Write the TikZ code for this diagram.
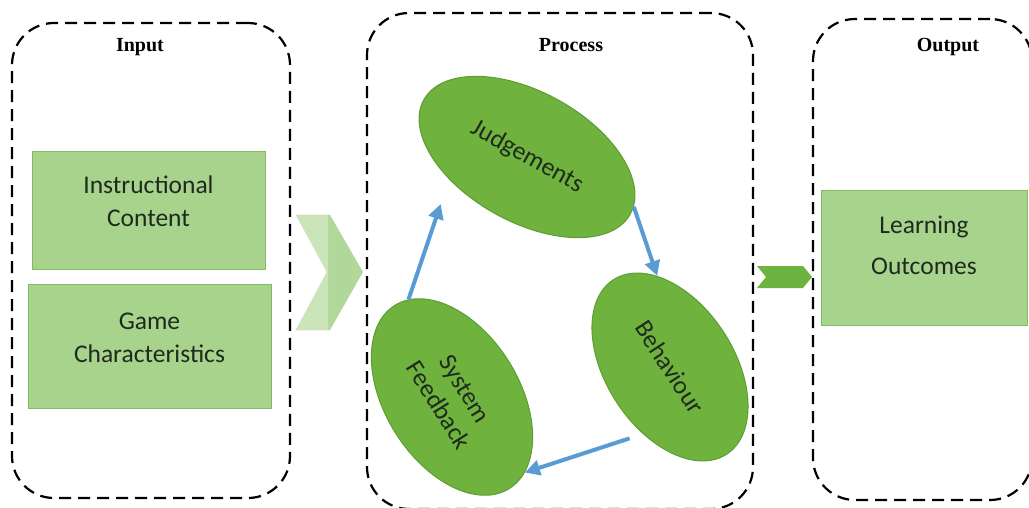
\documentclass[tikz,border=0pt]{standalone}
\usepackage{fontspec}
\setmainfont{Liberation Serif}
\newfontfamily\calfont{Carlito}
\usetikzlibrary{shapes.geometric,arrows.meta}
\definecolor{boxfill}{HTML}{A8D38C}
\definecolor{boxline}{HTML}{82BC5E}
\definecolor{ovalfill}{HTML}{6FB23E}
\definecolor{ovalline}{HTML}{5E9C34}
\definecolor{flowblue}{HTML}{5B9BD5}
\definecolor{chevlight}{HTML}{CBE4BA}
\definecolor{chevmid}{HTML}{B2D79A}
\definecolor{chevdark}{HTML}{6DB33F}
\definecolor{txt}{HTML}{1F2A1F}
\newcommand{\twolines}[3]{\raisebox{#1}[0pt][0pt]{\begin{tabular}{@{}c@{}}#2\\#3\end{tabular}}}
\begin{document}
\begin{tikzpicture}[x=1pt,y=-1pt,
  group/.style={draw=black, line width=2.2pt, dash pattern=on 12pt off 7pt, rounded corners=42pt, inner sep=0pt},
  grouptitle/.style={font=\bfseries\fontsize{20}{23}\selectfont, text=black, anchor=base, inner sep=0pt},
  itembox/.style={draw=boxline, fill=boxfill, line width=1pt, inner sep=0pt, text=txt,
    font=\calfont\fontsize{25.5}{33}\selectfont},
  oval/.style={ellipse, draw=ovalline, fill=ovalfill, line width=1pt, inner sep=0pt, align=center, text=txt,
    font=\calfont\fontsize{25.5}{31}\selectfont},
  flow/.style={draw=flowblue, line width=4pt, -{Triangle[length=15pt,width=15pt]}}
]
\useasboundingbox (0,0) rectangle (1029,508);

% group frames
\node[group, minimum width=278pt, minimum height=475pt] (inbox) at (151,260.5) {};
\node[group, minimum width=386pt, minimum height=496pt] (procbox) at (560,261) {};
\node[group, minimum width=219pt, minimum height=481pt] (outbox) at (922.5,259.5) {};

\node[grouptitle] (tin) at (140,52) {Input};
\node[grouptitle] (tproc) at (571,52) {Process};
\node[grouptitle] (tout) at (948,52) {Output};

% input boxes
\node[itembox, minimum width=233pt, minimum height=117pt] (ic) at (148.5,210.5) {\twolines{1pt}{Instructional}{Content}};
\node[itembox, minimum width=243pt, minimum height=124pt] (gc) at (149.5,346) {\twolines{0.5pt}{Game}{Characteristics}};

% output box
\node[itembox, minimum width=206pt, minimum height=134pt, font=\calfont\fontsize{25.5}{41}\selectfont] (lo) at (924,258) {\twolines{6pt}{Learning}{Outcomes}};

% big chevron
\begin{scope}
  \fill[chevmid] (296,215) -- (330,215) -- (363,272) -- (330,330) -- (296,330) -- (327,272) -- cycle;
  \clip (290,200) rectangle (328,340);
  \fill[chevlight] (296,215) -- (330,215) -- (363,272) -- (330,330) -- (296,330) -- (327,272) -- cycle;
\end{scope}
% small chevron
\fill[chevdark] (757,266) -- (803,266) -- (812,277) -- (803,288) -- (757,288) -- (766,277) -- cycle;

% process cycle
\node[oval, minimum width=236pt, minimum height=130pt, rotate=-29] (jud) at (527,157) {Judgements};
\node[oval, minimum width=208pt, minimum height=128pt, rotate=-57] (beh) at (670,367) {Behaviour};
\node[oval, minimum width=216pt, minimum height=134pt, rotate=-58] (sf) at (452,397) {System\\Feedback};

\draw[flow, shorten >=26pt] (sf.172) -- (jud.225);
\draw[flow] (jud.4) -- (beh.155);
\draw[flow, shorten <=14pt] (beh.305) -- (sf.12);
\end{tikzpicture}
\end{document}
